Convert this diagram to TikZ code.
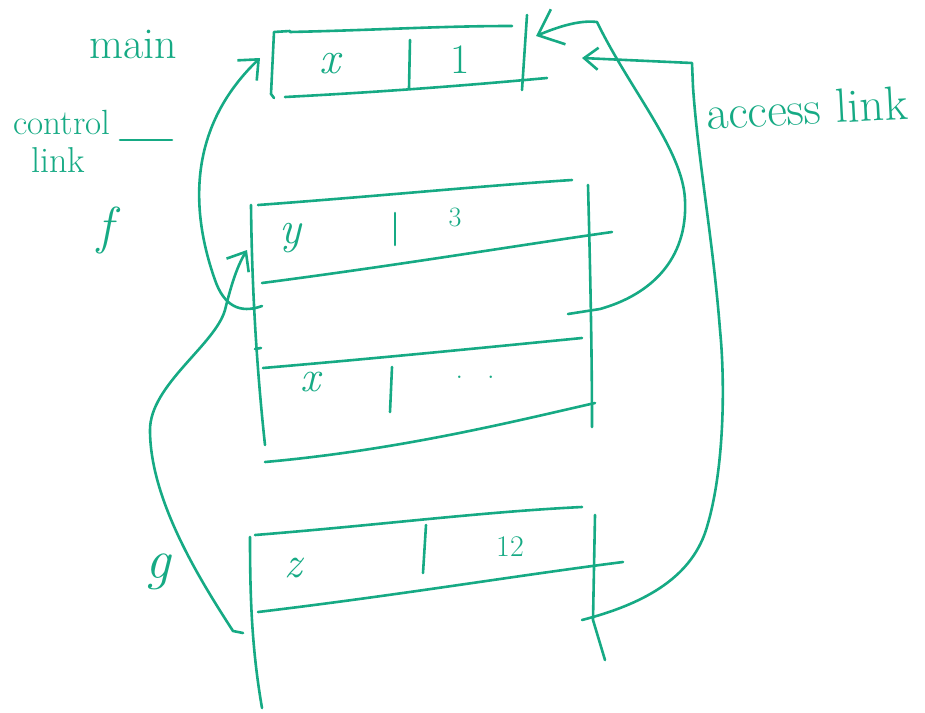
\documentclass[tikz,border=0pt]{standalone}
\usepackage{fontspec}
\usetikzlibrary{arrows.meta}
\definecolor{ink}{RGB}{22,170,132}
\begin{document}
\begin{tikzpicture}[x=1pt,y=-1pt,
  pen/.style={draw=ink,line width=2.6pt,line cap=round,line join=round},
  lbl/.style={text=ink,inner sep=0pt,font=\fontsize{44}{46}\selectfont},
  cell/.style={text=ink,inner sep=0pt,font=\fontsize{30}{32}\selectfont},
  bighead/.style={-{Straight Barb[length=22pt,width=38pt,line width=2.6pt]}},
  smallhead/.style={-{Straight Barb[length=14pt,width=22pt,line width=2.6pt]}}]
\useasboundingbox (0,0) rectangle (925,712);

% ---- labels ----
\node[lbl] (lmain) at (133,44) {main};
\node[lbl,font=\fontsize{35}{37}\selectfont] (lcontrol) at (62,122) {control};
\node[lbl,font=\fontsize{36}{38}\selectfont] (llink) at (58,160) {link};
\node[lbl,font=\fontsize{52}{54}\itshape] (lf) at (105,230) {f};
\node[lbl,font=\fontsize{56}{58}\itshape] (lg) at (158,572) {g};
\node[lbl,rotate=3,font=\fontsize{48}{50}\selectfont] (laccess) at (807,108) {access link};
\coordinate (dashA) at (120,140);
\coordinate (dashB) at (172,140);
\draw[pen] (dashA) -- (dashB);

% ---- main frame ----
\draw[pen] (290,31) -- (274,32) -- (271,94) -- (274,98);
\draw[pen] (290,32) .. controls (380,30) and (440,26) .. (512,26);
\draw[pen] (285,97) .. controls (380,92) and (460,86) .. (547,78);
\draw[pen] (410,40) -- (409,88);
\draw[pen] (527,15) -- (522,90);
\node[cell,font=\fontsize{46}{48}\itshape] (vx) at (330,64) {x};
\node[cell,font=\fontsize{42}{44}\selectfont] (v1) at (460,60) {1};

% ---- f frame ----
\draw[pen] (258,205) .. controls (380,196) and (480,186) .. (572,180);
\draw[pen] (251,205) .. controls (252,300) and (258,380) .. (265,445);
\draw[pen] (262,283) .. controls (400,265) and (520,245) .. (612,232);
\draw[pen] (588,185) .. controls (590,260) and (592,350) .. (592,427);
\draw[pen] (263,368) .. controls (380,358) and (480,348) .. (582,338);
\draw[pen] (265,462) .. controls (400,450) and (520,420) .. (595,403);
\draw[pen] (395,213) -- (395,245);
\draw[pen] (392,367) -- (390,412);
\draw[pen] (255,349) -- (261,348);
\node[cell,font=\fontsize{46}{48}\itshape] (vy) at (290,238) {y};
\node[cell,font=\fontsize{28}{30}\selectfont] (v3) at (455,217) {3};
\node[cell,font=\fontsize{44}{46}\itshape] (vx2) at (310,382) {x};
\node[cell,font=\fontsize{30}{32}\selectfont] (vd) at (475,377) {.\hspace{24pt}.};

% ---- g frame ----
\draw[pen] (255,535) .. controls (380,525) and (480,512) .. (582,507);
\draw[pen] (250,537) .. controls (250,600) and (252,650) .. (262,708);
\draw[pen] (258,612) .. controls (400,595) and (520,575) .. (623,562);
\draw[pen] (426,525) -- (423,573);
\draw[pen] (595,515) -- (593,620) -- (605,660);
\node[cell,font=\fontsize{44}{46}\itshape] (vz) at (293,568) {z};
\node[cell,font=\fontsize{30}{32}\selectfont] (v12) at (510,547) {12};

% ---- link end points ----
\coordinate (fctl) at (262,306);
\coordinate (mainin) at (260,58);
\coordinate (gctl) at (243,633);
\coordinate (fin) at (247,250);
\coordinate (fac) at (568,314);
\coordinate (mainac) at (536,36);
\coordinate (gac) at (582,620);
\coordinate (mainac2) at (582,58);

% control links
\draw[pen,-{Straight Barb[length=16pt,width=28pt,line width=2.6pt]}]
  (fctl) .. controls (240,314) and (224,306) .. (215,280)
  .. controls (192,215) and (185,130) .. (mainin);
\draw[pen,-{Straight Barb[length=16pt,width=26pt,line width=2.6pt]}]
  (gctl) -- (233,631) .. controls (200,580) and (150,500) .. (150,430)
  .. controls (150,385) and (215,345) .. (225,310)
  .. controls (230,290) and (236,268) .. (fin);

% access links
\draw[pen,bighead]
  (fac) -- (600,309) .. controls (650,295) and (688,260) .. (685,200)
  .. controls (683,150) and (630,90) .. (597,22)
  .. controls (580,20) and (560,26) .. (mainac);
\draw[pen,smallhead]
  (gac) .. controls (640,605) and (690,580) .. (706,530)
  .. controls (725,470) and (725,380) .. (720,330)
  .. controls (713,240) and (698,160) .. (693,87)
  -- (692,63) -- (mainac2);
\end{tikzpicture}
\end{document}
